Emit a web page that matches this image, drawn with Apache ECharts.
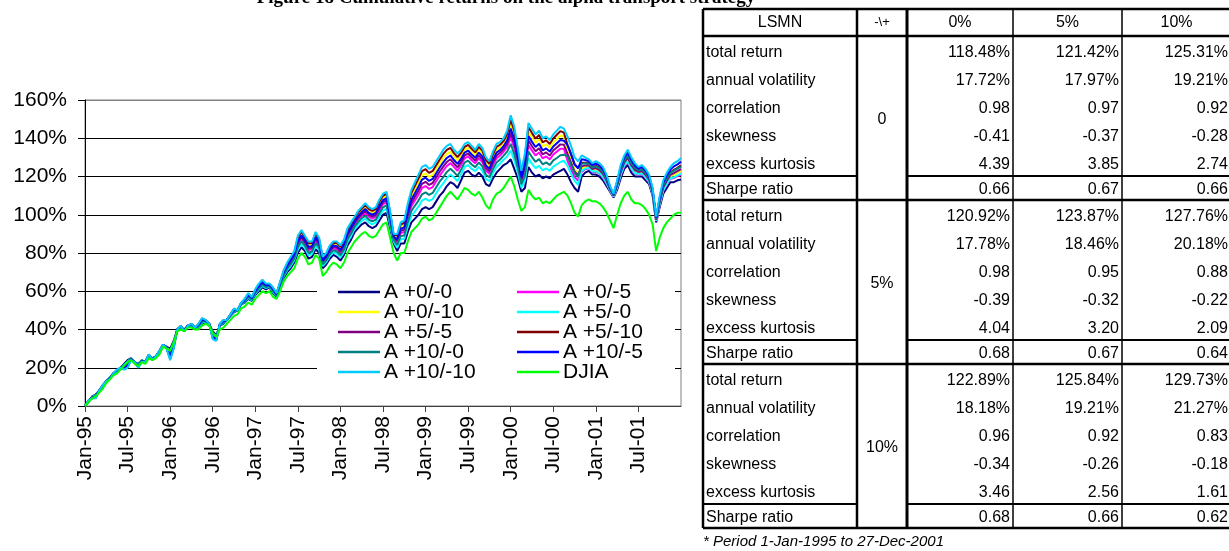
<!DOCTYPE html>
<html>
<head>
<meta charset="utf-8">
<script src="https://cdn.jsdelivr.net/npm/echarts@6/dist/echarts.min.js"></script>
<style>
  html, body { margin: 0; padding: 0; background: #fff; }
  #chart { width: 1229px; height: 551px; }
</style>
</head>
<body>
<div id="chart"></div>
<script>
// Cumulative returns (%), one value every half month from Jan-1995 to 27-Dec-2001
const halfMonthStep = 0.5;

const tickLabels = ['Jan-95', 'Jul-95', 'Jan-96', 'Jul-96', 'Jan-97', 'Jul-97', 'Jan-98',
  'Jul-98', 'Jan-99', 'Jul-99', 'Jan-00', 'Jul-00', 'Jan-01', 'Jul-01'];

const seriesNames = ['A +0/-0', 'A +0/-5', 'A +0/-10', 'A +5/-0', 'A +5/-5',
  'A +5/-10', 'A +10/-0', 'A +10/-5', 'A +10/-10', 'DJIA'];

const a0_0 = [0,2,5,6,8,10,13,15,17,18,20,22,24,25,23,22,24,23,26,25,26,28,32,31,
  30,34,40,41,40,42,42,41,41,43,44,43,39,37,42,43,45,47,49,50,53,54,56,55,
  58,60,62,61,62,59,57,62,67,70,72,75,80,83,81,77,78,82,80,72,74,77,79,78,
  76,79,84,87,91,93,95,96,94,93,94,97,100,101,93,85,81,85,85,91,96,98,100,103,
  104,103,104,107,110,112,115,117,116,114,118,122,123,121,120,122,120,116,115,119,122,124,126,127,
  129,124,119,112,114,125,122,120,121,119,120,119,121,122,123,124,121,117,114,112,120,122,123,121,
  121,120,118,115,112,109,113,119,124,126,122,120,120,120,118,116,110,96,104,111,114,117,117,118,
  118.48];

const a0_5 = [0,2.5,4.5,5,8,10.5,13,14.5,17,18.5,20,20.5,22,24.5,23,21,23.5,23,26.5,24.5,26,28.5,32,30.5,
  27,32,40,41.5,39.5,42,42.5,41,42,44.5,44.5,43,37,35.5,42.5,44,45,47.5,50,50,53.5,55,57.5,56,
  59.5,62,64,62.5,63,60.5,58,63.5,69,72.5,75,78,84.5,87.5,85,81.5,82,86.5,84,75,77,80.5,82.5,82,
  80,83,88.5,91.5,95,97.5,99.5,101,99,98,99,102.5,105.5,106.5,97.5,87.5,85.5,90.5,91,98.5,104.5,107.5,110.5,114,
  115,113.5,114.5,117.5,120.5,123,125.5,127,125,123,126,129.5,130.5,128.5,127,129.5,127.5,123,121.5,126,129.5,131,133,135.5,
  140.5,135,127,117.5,123,136.5,133.5,131,132.5,129.5,130.5,129,131.5,133,134.5,134.5,128.2,123.8,119.8,117.8,122.4,123.8,124.3,122.3,
  122.5,121.5,119.5,116.3,112.7,109.4,114.1,120.5,125.5,127.8,123.8,121.5,121.1,121.3,119.3,117.1,110.9,96.7,105.3,112.5,115.8,118.8,119.2,120.2,
  120.92];

const a0_10 = [0,2.8,4.2,4.4,8,10.8,13,14.2,17,18.8,20,19.6,20.8,24.2,23,20.4,23.2,23,26.8,24.2,26,28.8,32,30.2,
  25.2,30.8,40,41.8,39.2,42,42.8,41,42.6,45.4,44.8,43,35.8,34.6,42.8,44.6,45,47.8,50.6,50,53.8,55.6,58.4,56.6,
  60.4,63.2,65.2,63.4,63.6,61.4,58.6,64.4,70.2,74,76.8,79.8,87.2,90.2,87.4,84.2,84.4,89.2,86.4,76.8,78.8,82.6,84.6,84.4,
  82.4,85.4,91.2,94.2,97.4,100.2,102.2,104,102,101,102,105.8,108.8,109.8,100.2,89,88.2,93.8,94.6,103,109.6,113.2,116.8,120.6,
  121.6,119.8,120.8,123.8,126.8,129.6,131.8,133,130.4,128.4,130.8,134,135,133,131.2,134,132,127.2,125.4,130.2,134,135.2,137.2,140.6,
  147.4,141.6,131.8,120.8,128.4,143.4,140.4,137.6,139.4,135.8,136.8,135,137.8,139.6,141.4,140.8,133,128.4,123.6,121.6,124.3,125.1,125.3,123.3,
  123.7,122.7,120.7,117.3,113.2,109.8,115,121.7,126.7,129.1,125.1,122.7,122,122.3,120.3,118,111.6,97.2,106.3,113.7,117.1,120.1,120.9,121.9,
  122.89];

const a5_0 = [0,2.2,4.8,5.6,8,10.2,13,14.8,17,18.2,20,21.4,23.2,24.8,23,21.6,23.8,23,26.2,24.8,26,28.2,32,30.8,
  28.8,33.2,40,41.2,39.8,42,42.2,41,41.4,43.6,44.2,43,38.2,36.4,42.2,43.4,45,47.2,49.4,50,53.2,54.4,56.6,55.4,
  58.6,60.8,62.8,61.6,62.4,59.6,57.4,62.6,67.8,71,73.2,76.2,81.8,84.8,82.6,78.8,79.6,83.8,81.6,73.2,75.2,78.4,80.4,79.6,
  77.6,80.6,85.8,88.8,92.6,94.8,96.8,98,96,95,96,99.2,102.2,103.2,94.8,86,82.8,87.2,87.4,94,99.4,101.8,104.2,107.4,
  108.4,107.2,108.2,111.2,114.2,116.4,119.2,121,119.6,117.6,121.2,125,126,124,122.8,125,123,118.8,117.6,121.8,125,126.8,128.8,130.4,
  133.6,128.4,122.2,114.2,117.6,129.6,126.6,124.4,125.6,123.2,124.2,123,125.2,126.4,127.6,128.2,125.6,121.4,117.7,115.7,122.9,124.1,124.6,122.6,
  122.8,121.8,119.8,116.6,112.8,109.5,114.3,120.8,125.8,128.1,124.1,121.8,121.3,121.6,119.6,117.3,111,96.8,105.6,112.8,116.1,119.1,119.6,120.6,
  121.42];

const a5_5 = [0,2.6,4.4,4.8,8,10.6,13,14.4,17,18.6,20,20.2,21.6,24.4,23,20.8,23.4,23,26.6,24.4,26,28.6,32,30.4,
  26.4,31.6,40,41.6,39.4,42,42.6,41,42.2,44.8,44.6,43,36.6,35.2,42.6,44.2,45,47.6,50.2,50,53.6,55.2,57.8,56.2,
  59.8,62.4,64.4,62.8,63.2,60.8,58.2,63.8,69.4,73,75.6,78.6,85.4,88.4,85.8,82.4,82.8,87.4,84.8,75.6,77.6,81.2,83.2,82.8,
  80.8,83.8,89.4,92.4,95.8,98.4,100.4,102,100,99,100,103.6,106.6,107.6,98.4,88,86.4,91.6,92.2,100,106.2,109.4,112.6,116.2,
  117.2,115.6,116.6,119.6,122.6,125.2,127.6,129,126.8,124.8,127.6,131,132,130,128.4,131,129,124.4,122.8,127.4,131,132.4,134.4,137.2,
  142.8,137.2,128.6,118.6,124.8,138.8,135.8,133.2,134.8,131.6,132.6,131,133.6,135.2,136.8,136.6,131.8,127.3,122.6,120.6,125.3,125.8,125.9,123.9,
  124.4,123.4,121.4,117.9,113.4,110,115.4,122.4,127.4,129.8,125.8,123.4,122.4,122.9,120.9,118.4,111.9,97.4,106.9,114.4,117.8,120.8,121.8,122.8,
  123.87];

const a5_10 = [0,2.9,4.1,4.2,8,10.9,13,14.1,17,18.9,20,19.3,20.4,24.1,23,20.2,23.1,23,26.9,24.1,26,28.9,32,30.1,
  24.6,30.4,40,41.9,39.1,42,42.9,41,42.8,45.7,44.9,43,35.4,34.3,42.9,44.8,45,47.9,50.8,50,53.9,55.8,58.7,56.8,
  60.7,63.6,65.6,63.7,63.8,61.7,58.8,64.7,70.6,74.5,77.4,80.4,88.1,91.1,88.2,85.1,85.2,90.1,87.2,77.4,79.4,83.3,85.3,85.2,
  83.2,86.2,92.1,95.1,98.2,101.1,103.1,105,103,102,103,106.9,109.9,110.9,101.1,89.5,89.1,94.9,95.8,104.5,111.3,115.1,118.9,122.8,
  123.8,121.9,122.9,125.9,128.9,131.8,133.9,135,132.2,130.2,132.4,135.5,136.5,134.5,132.6,135.5,133.5,128.6,126.7,131.6,135.5,136.6,138.6,142.3,
  149.7,143.8,133.4,121.9,130.2,145.7,142.7,139.8,141.7,137.9,138.9,137,139.9,141.8,143.7,142.9,136.6,131.8,126.5,124.5,127.2,127.2,126.9,124.9,
  125.6,124.6,122.6,118.9,114,110.3,116.3,123.6,128.6,131.2,127.2,124.6,123.3,123.9,121.9,119.3,112.6,98,107.9,115.6,119.2,122.2,123.5,124.5,
  125.84];

const a10_0 = [0,2.4,4.7,5.3,8,10.4,13,14.7,17,18.4,20,21,22.6,24.7,23,21.3,23.7,23,26.4,24.7,26,28.4,32,30.7,
  27.9,32.6,40,41.4,39.7,42,42.4,41,41.7,44.1,44.4,43,37.6,36,42.4,43.7,45,47.4,49.7,50,53.4,54.7,57.1,55.7,
  59.1,61.4,63.4,62.1,62.7,60.1,57.7,63.1,68.4,71.8,74.1,77.1,83.2,86.2,83.8,80.2,80.8,85.2,82.8,74.1,76.1,79.5,81.5,80.8,
  78.8,81.8,87.2,90.2,93.8,96.2,98.2,99.5,97.5,96.5,97.5,100.9,103.9,104.9,96.2,86.8,84.2,88.9,89.2,96.3,102,104.7,107.4,110.7,
  111.7,110.4,111.4,114.4,117.4,119.7,122.4,124,122.3,120.3,123.6,127.3,128.3,126.3,124.9,127.3,125.3,120.9,119.6,123.9,127.3,128.9,130.9,133,
  137.1,131.7,124.6,115.9,120.3,133.1,130.1,127.7,129.1,126.4,127.4,126,128.4,129.7,131.1,131.4,130.6,126.1,121.7,119.7,126.7,126.9,126.7,124.7,
  125.3,124.3,122.3,118.7,113.8,110.2,116.1,123.3,128.3,130.9,126.9,124.3,123.1,123.7,121.7,119.1,112.4,97.8,107.7,115.3,118.9,121.9,123.1,124.1,
  125.31];

const a10_5 = [0,2.7,4.3,4.6,8,10.7,13,14.3,17,18.7,20,19.9,21.2,24.3,23,20.6,23.3,23,26.7,24.3,26,28.7,32,30.3,
  25.8,31.2,40,41.7,39.3,42,42.7,41,42.4,45.1,44.7,43,36.2,34.9,42.7,44.4,45,47.7,50.4,50,53.7,55.4,58.1,56.4,
  60.1,62.8,64.8,63.1,63.4,61.1,58.4,64.1,69.8,73.5,76.2,79.2,86.3,89.3,86.6,83.3,83.6,88.3,85.6,76.2,78.2,81.9,83.9,83.6,
  81.6,84.6,90.3,93.3,96.6,99.3,101.3,103,101,100,101,104.7,107.7,108.7,99.3,88.5,87.3,92.7,93.4,101.5,107.9,111.3,114.7,118.4,
  119.4,117.7,118.7,121.7,124.7,127.4,129.7,131,128.6,126.6,129.2,132.5,133.5,131.5,129.8,132.5,130.5,125.8,124.1,128.8,132.5,133.8,135.8,138.9,
  145.1,139.4,130.2,119.7,126.6,141.1,138.1,135.4,137.1,133.7,134.7,133,135.7,137.4,139.1,138.7,136.4,131.6,126.3,124.3,129.1,128.6,128,126,
  126.8,125.8,123.8,120,114.5,110.7,117.2,124.8,129.8,132.6,128.6,125.8,124.2,125,123,120.2,113.3,98.5,109,116.8,120.6,123.6,125.3,126.3,
  127.76];

const a10_10 = [0,3,4,4,8,11,13,14,17,19,20,19,20,24,23,20,23,23,27,24,26,29,32,30,
  24,30,40,42,39,42,43,41,43,46,45,43,35,34,43,45,45,48,51,50,54,56,59,57,
  61,64,66,64,64,62,59,65,71,75,78,81,89,92,89,86,86,91,88,78,80,84,86,86,
  84,87,93,96,99,102,104,106,104,103,104,108,111,112,102,90,90,96,97,106,113,117,121,125,
  126,124,125,128,131,134,136,137,134,132,134,137,138,136,134,137,135,130,128,133,137,138,140,144,
  152,146,135,123,132,148,145,142,144,140,141,139,142,144,146,145,141,136,130,128,131,130,129,127,
  128,127,125,121,115,111,118,126,131,134,130,127,125,126,124,121,114,99,110,118,122,125,127,128,
  129.73];

const djia = [0,2,4,5,7,9,12,14,16,17,19,21,23,24,22,21,23,22,25,24,25,27,31,30,
  29,33,39,40,39,41,41,40,40,42,43,42,38,36,40,41,43,45,47,48,51,52,54,53,
  56,58,60,59,60,57,56,60,65,68,70,72,77,80,78,74,75,79,77,68,70,73,75,74,
  72,75,80,83,86,88,90,91,89,88,89,92,95,96,88,80,76,80,80,86,91,93,95,98,
  99,97,98,101,104,107,110,112,110,108,111,114,113,111,110,112,109,105,103,108,111,112,114,117,
  120,115,108,102,104,113,110,108,109,106,107,106,108,110,111,112,110,106,101,99,105,107,108,107,
  107,106,104,101,97,93,100,106,110,112,108,106,106,105,103,100,95,81,88,93,96,98,100,101,
  101];

const seriesValues = [a0_0, a0_5, a0_10, a5_0, a5_5, a5_10, a10_0, a10_5, a10_10, djia];
const seriesColors = ['#000080', '#FF00FF', '#FFFF00', '#00FFFF', '#800080',
  '#800000', '#008080', '#0000FF', '#00CCFF', '#00FF00'];

// Statistics table
const tableTitleCells = ['LSMN', '-\\+'];
const plusLevels = ['0%', '5%', '10%'];
const minusLevels = ['0', '5%', '10%'];
const statNames = ['total return', 'annual volatility', 'correlation', 'skewness', 'excess kurtosis', 'Sharpe ratio'];
const totalReturn    = [[118.48, 121.42, 125.31], [120.92, 123.87, 127.76], [122.89, 125.84, 129.73]];
const annualVol      = [[17.72, 17.97, 19.21], [17.78, 18.46, 20.18], [18.18, 19.21, 21.27]];
const correlation    = [[0.98, 0.97, 0.92], [0.98, 0.95, 0.88], [0.96, 0.92, 0.83]];
const skewness       = [[-0.41, -0.37, -0.28], [-0.39, -0.32, -0.22], [-0.34, -0.26, -0.18]];
const excessKurtosis = [[4.39, 3.85, 2.74], [4.04, 3.20, 2.09], [3.46, 2.56, 1.61]];
const sharpeRatio    = [[0.66, 0.67, 0.66], [0.68, 0.67, 0.64], [0.68, 0.66, 0.62]];
const footnote = '* Period 1-Jan-1995 to 27-Dec-2001';
const figureTitle = 'Figure 18 Cumulative returns on the alpha transport strategy';

const SANS = '"Liberation Sans", Arial, sans-serif';

// ---- table drawing (graphic elements) ----
const statBlocks = [totalReturn, annualVol, correlation, skewness, excessKurtosis, sharpeRatio];
const colX = [703, 857, 907, 1013, 1122, 1231];
const tableTop = 9, headBottom = 36, rowH = 28, sharpeH = 24;
const blockH = 5 * rowH + sharpeH;
const tableEls = [];

function hLine(x1, x2, y, w) {
  tableEls.push({ type: 'line', z: 10, shape: { x1: x1, y1: y, x2: x2, y2: y },
    style: { stroke: '#000', lineWidth: w } });
}
function vLine(x, y1, y2, w) {
  tableEls.push({ type: 'line', z: 10, shape: { x1: x, y1: y1, x2: x, y2: y2 },
    style: { stroke: '#000', lineWidth: w } });
}
function cellText(x, y, text, align, font) {
  tableEls.push({ type: 'text', z: 11, x: x, y: y,
    style: { text: text, font: font || ('16px ' + SANS), fill: '#000',
      align: align, textAlign: align, verticalAlign: 'middle', textVerticalAlign: 'middle' } });
}

const tableBottom = headBottom + 3 * blockH;
hLine(colX[0], colX[5], tableTop, 2.5);
hLine(colX[0], colX[5], headBottom, 2.5);
for (let k = 0; k < 3; k++) {
  const top = headBottom + k * blockH;
  const sharpeTop = top + 5 * rowH;
  hLine(colX[0], colX[1], sharpeTop, 2.2);
  hLine(colX[2], colX[5], sharpeTop, 2.2);
  hLine(colX[0], colX[5], top + blockH, 2.5);
}
vLine(colX[0], tableTop, tableBottom, 2.5);
vLine(colX[1], tableTop, tableBottom, 2.5);
vLine(colX[2], tableTop, tableBottom, 3);
vLine(colX[3], tableTop, tableBottom, 1.5);
vLine(colX[4], tableTop, tableBottom, 1.5);

const headY = (tableTop + headBottom) / 2;
cellText((colX[0] + colX[1]) / 2, headY, tableTitleCells[0], 'center');
cellText((colX[1] + colX[2]) / 2, headY, tableTitleCells[1], 'center', '13px ' + SANS);
for (let c = 0; c < 3; c++) {
  cellText((colX[c + 2] + colX[c + 3]) / 2, headY, plusLevels[c], 'center');
}
for (let k = 0; k < 3; k++) {
  const top = headBottom + k * blockH;
  cellText((colX[1] + colX[2]) / 2, top + blockH / 2 + 2, minusLevels[k], 'center');
  for (let r = 0; r < 6; r++) {
    const y = r < 5 ? top + r * rowH + rowH / 2 + 3 : top + 5 * rowH + sharpeH / 2 + 1.5;
    cellText(colX[0] + 3, y, statNames[r], 'left');
    for (let c = 0; c < 3; c++) {
      const v = statBlocks[r][k][c];
      const s = r < 2 ? v.toFixed(2) + '%' : v.toFixed(2);
      cellText(colX[c + 3] - 3, y, s, 'right');
    }
  }
}
cellText(colX[0], 542, footnote, 'left', 'italic 15px ' + SANS);

// ---- chart ----
const chart = echarts.init(document.getElementById('chart'), null, { renderer: 'canvas' });

const series = seriesNames.map((name, s) => ({
  name: name,
  type: 'line',
  data: seriesValues[s].map((v, i) => [i * halfMonthStep, v]),
  symbol: 'none',
  showSymbol: false,
  smooth: false,
  lineStyle: { color: seriesColors[s], width: 2 },
  itemStyle: { color: seriesColors[s] },
  emphasis: { disabled: true },
  animation: false,
  z: 2
}));

const legendCommon = {
  orient: 'vertical',
  top: 281.5,
  padding: 0,
  itemGap: -1,
  itemWidth: 42,
  itemHeight: 2.5,
  icon: 'rect',
  selectedMode: false,
  textStyle: { fontSize: 21, fontFamily: SANS, color: '#000', lineHeight: 20, padding: [0, 0, 0, -1] }
};

const gridLineColors = ['#000', '#000', '#000', '#000', '#000', '#000', '#000', '#000', '#808080'];

chart.setOption({
  animation: false,
  backgroundColor: '#fff',
  grid: { left: 85, right: 548, top: 100, bottom: 145, show: true,
    borderColor: '#808080', borderWidth: 1, backgroundColor: 'transparent' },
  xAxis: {
    type: 'value', min: 0, max: 84, interval: 6,
    axisLine: { show: true, lineStyle: { color: '#404040', width: 1 } },
    axisTick: { show: true, length: 6, inside: false, lineStyle: { color: '#404040' } },
    splitLine: { show: false },
    axisLabel: {
      rotate: 90, margin: 10, fontSize: 21, fontFamily: SANS, color: '#000',
      showMaxLabel: false, showMinLabel: true,
      formatter: v => tickLabels[Math.round(v / 6)] || ''
    }
  },
  yAxis: {
    type: 'value', min: 0, max: 160, interval: 20,
    axisLine: { show: true, lineStyle: { color: '#000', width: 1 } },
    axisTick: { show: true, length: 7, inside: false, lineStyle: { color: '#000' } },
    splitLine: { show: true, lineStyle: { color: gridLineColors, width: 1 } },
    axisLabel: { formatter: '{value}%', fontSize: 21, fontFamily: SANS, color: '#000', margin: 18 }
  },
  legend: [
    Object.assign({ left: 338, data: seriesNames.filter((n, i) => i % 2 === 0) }, legendCommon),
    Object.assign({ left: 517, data: seriesNames.filter((n, i) => i % 2 === 1) }, legendCommon)
  ],
  tooltip: { show: false },
  series: series,
  graphic: [
    { type: 'rect', z: 1, shape: { x: 317, y: 279, width: 358, height: 108 },
      style: { fill: '#fff' } },
    { type: 'text', z: 11, x: 506, y: 8,
      style: { text: figureTitle, font: 'bold 19px "Liberation Serif", "Times New Roman", serif',
        fill: '#000', align: 'center', textAlign: 'center', verticalAlign: 'bottom', textVerticalAlign: 'bottom' } }
  ].concat(tableEls)
});
</script>
</body>
</html>
